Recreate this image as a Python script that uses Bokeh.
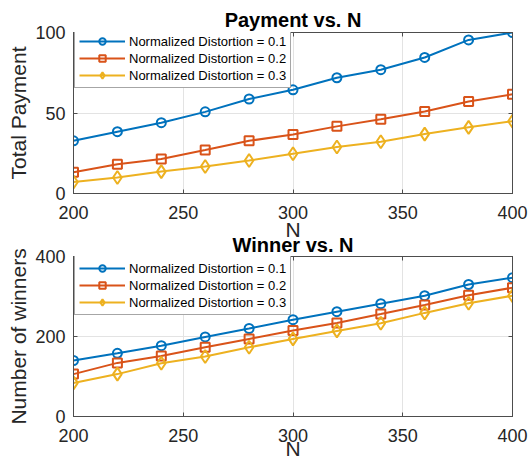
from bokeh.plotting import figure
from bokeh.layouts import column
from bokeh.models import (Range1d, Legend, LegendItem, FixedTicker, LinearAxis,
                          CustomJSTickFormatter)
from bokeh.embed import file_html
from bokeh.resources import INLINE

# Number of users N
n_values = [200, 220, 240, 260, 280, 300, 320, 340, 360, 380, 400]

# Total payment for each normalized distortion level
payment_d01 = [32.7, 38.4, 44.0, 50.7, 58.7, 64.4, 71.9, 76.9, 84.5, 95.4, 100.0]
payment_d02 = [13.2, 18.2, 21.4, 27.0, 32.7, 36.7, 41.7, 46.1, 50.9, 57.2, 61.6]
payment_d03 = [7.1, 9.9, 13.6, 16.8, 20.5, 24.7, 28.9, 32.1, 36.9, 41.1, 44.9]

# Number of winners for each normalized distortion level
winners_d01 = [140, 158, 177, 199, 220, 242, 262, 282, 302, 330, 347]
winners_d02 = [106, 134, 151, 173, 194, 215, 234, 256, 279, 303, 322]
winners_d03 = [84, 106, 133, 150, 173, 194, 214, 233, 259, 283, 302]

series_labels = ["Normalized Distortion = 0.1",
                 "Normalized Distortion = 0.2",
                 "Normalized Distortion = 0.3"]

x_ticks = [200, 250, 300, 350, 400]
payment_ticks = [0, 50, 100]
winner_ticks = [0, 200, 400]

COLORS = ["#0072BD", "#D95319", "#EDB120"]
MARKERS = [("circle", 9), ("square", 9), ("diamond", 13)]
FONT = "Liberation Sans"
AXIS_COLOR = "#4d4d4d"
TEXT_COLOR = "#262626"


def style_ticks(ax):
    ax.axis_line_color = AXIS_COLOR
    ax.major_tick_line_color = AXIS_COLOR
    ax.major_tick_in = 4
    ax.major_tick_out = 0
    ax.minor_tick_line_color = None


def mirror_axis(p, ticks, side):
    # box-style ticks on the opposite sides, no labels
    ax = LinearAxis(ticker=FixedTicker(ticks=ticks),
                    formatter=CustomJSTickFormatter(code="return ''"),
                    major_label_text_font_size="0px",
                    major_label_standoff=0)
    style_ticks(ax)
    p.add_layout(ax, side)


def make_panel(title, ylabel, y_end, y_ticks, series, height,
               border_top, border_bottom, legend_y, title_standoff,
               xlabel_standoff):
    p = figure(width=528, height=height, output_backend="svg",
               toolbar_location=None,
               x_range=Range1d(200, 400), y_range=Range1d(0, y_end),
               min_border_left=73, min_border_right=16,
               min_border_top=border_top, min_border_bottom=border_bottom)

    p.title.text = title
    p.title.align = "center"
    p.title.text_font = FONT
    p.title.text_font_size = "20px"
    p.title.text_font_style = "bold"
    p.title.text_color = "black"
    p.title.standoff = title_standoff

    p.outline_line_color = AXIS_COLOR
    p.outline_line_alpha = 1.0
    p.outline_line_width = 1

    p.xaxis.ticker = FixedTicker(ticks=x_ticks)
    p.yaxis.ticker = FixedTicker(ticks=y_ticks)
    p.xgrid.ticker = FixedTicker(ticks=x_ticks)
    p.ygrid.ticker = FixedTicker(ticks=y_ticks)
    p.grid.grid_line_color = "#e3e3e3"
    p.grid.grid_line_width = 1

    for ax in (p.xaxis, p.yaxis):
        style_ticks(ax)
        ax.major_label_text_font = FONT
        ax.major_label_text_font_size = "18px"
        ax.major_label_text_color = TEXT_COLOR
        ax.axis_label_text_font = FONT
        ax.axis_label_text_font_size = "21px"
        ax.axis_label_text_font_style = "normal"
        ax.axis_label_text_color = TEXT_COLOR

    p.xaxis.axis_label = "N"
    p.xaxis.major_label_standoff = 12
    p.xaxis.axis_label_standoff = xlabel_standoff
    p.yaxis.axis_label = ylabel
    p.yaxis.major_label_standoff = 8
    p.yaxis.axis_label_standoff = 2

    mirror_axis(p, x_ticks, "above")
    mirror_axis(p, y_ticks, "right")

    items = []
    for values, label, color, (marker, size) in zip(series, series_labels,
                                                     COLORS, MARKERS):
        ln = p.line(n_values, values, line_color=color, line_width=2)
        mk = p.scatter(n_values, values, marker=marker, size=size,
                       line_color=color, line_width=2, fill_color=None)
        items.append(LegendItem(label=label, renderers=[ln, mk]))

    legend = Legend(items=items, location=(1, legend_y),
                    label_text_font=FONT, label_text_font_size="13px",
                    label_text_color="black",
                    glyph_width=46, glyph_height=16, label_height=16,
                    spacing=1, padding=4, label_standoff=4, margin=0,
                    border_line_color=AXIS_COLOR, border_line_width=1,
                    background_fill_color="white", background_fill_alpha=1.0)
    p.add_layout(legend)
    return p


top = make_panel("Payment vs. N", "Total Payment", 100, payment_ticks,
                 [payment_d01, payment_d02, payment_d03],
                 height=246, border_top=32, border_bottom=53,
                 legend_y=105, title_standoff=4, xlabel_standoff=-4)

bottom = make_panel("Winner vs. N", "Number of winners", 400, winner_ticks,
                    [winners_d01, winners_d02, winners_d03],
                    height=235, border_top=28, border_bottom=47,
                    legend_y=101, title_standoff=2, xlabel_standoff=-8)
bottom.border_fill_alpha = 0
bottom.margin = (-18, 0, 0, 0)

layout = column(top, bottom, spacing=0)

open("out.html", "w").write(file_html(layout, INLINE))
